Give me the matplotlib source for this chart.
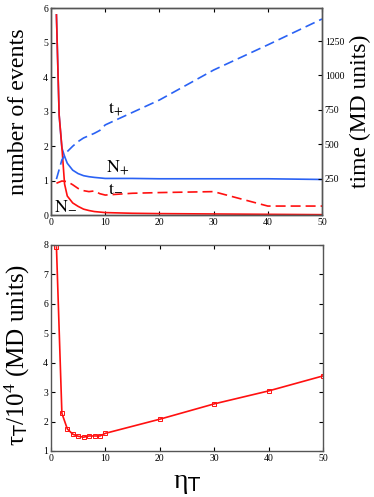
import matplotlib
matplotlib.use("Agg")
import matplotlib.pyplot as plt

plt.rcParams['font.family'] = ['Liberation Serif', 'DejaVu Serif']
plt.rcParams['mathtext.fontset'] = 'custom'
plt.rcParams['mathtext.rm'] = 'Liberation Serif'
plt.rcParams['mathtext.it'] = 'Liberation Serif:italic'
plt.rcParams['mathtext.sf'] = 'DejaVu Sans'

# ---- top panel data ----
x_Nplus = [1, 1.5, 2, 2.5, 3, 4, 5, 6, 7, 8, 10, 15, 20, 30, 40, 50]
Nplus = [5.8, 2.9, 1.95, 1.7, 1.5, 1.3, 1.2, 1.14, 1.11, 1.09, 1.06, 1.06, 1.05, 1.05, 1.05, 1.03]
x_Nminus = [1, 1.5, 2, 2.5, 3, 4, 5, 6, 7, 8, 10, 15, 20, 30, 40, 50]
Nminus = [5.8, 2.9, 1.98, 0.9, 0.55, 0.35, 0.25, 0.17, 0.13, 0.1, 0.07, 0.05, 0.04, 0.03, 0.02, 0.01]
x_tplus = [1, 2, 3, 4, 5, 6, 7, 8, 9, 10, 20, 30, 40, 50]
tplus = [246, 385, 446, 485, 519, 545, 562, 579, 600, 640, 821, 1039, 1222, 1410]
x_tminus = [1, 2, 3, 4, 5, 6, 7, 8, 9, 10, 15, 20, 30, 40, 50]
tminus = [216, 232, 228, 205, 178, 162, 155, 160, 140, 130, 143, 148, 155, 50, 50]

# ---- bottom panel data ----
eta = [1, 2, 3, 4, 5, 6, 7, 8, 9, 10, 20, 30, 40, 50]
tau = [7.93, 2.28, 1.75, 1.57, 1.5, 1.47, 1.51, 1.51, 1.51, 1.6, 2.08, 2.6, 3.04, 3.55]

blue = '#2a62f4'
red = '#ff1010'
spine_c = '#555555'

fig = plt.figure(figsize=(3.74, 4.97), dpi=100)

ax1 = fig.add_axes([0.1364, 0.5674, 0.7246, 0.4165])
ax2 = ax1.twinx()

ax1.plot(x_Nplus, Nplus, color=blue, lw=1.2)
ax1.plot(x_Nminus, Nminus, color=red, lw=1.2)
ax2.plot(x_tplus, tplus, color=blue, lw=1.2, dashes=(6, 3))
ax2.plot(x_tminus, tminus, color=red, lw=1.2, dashes=(6, 3))

ax1.set_xlim(0, 50)
ax1.set_ylim(0, 6)
ax2.set_ylim(-15, 1490)
ax1.set_xticks([0, 10, 20, 30, 40, 50])
ax1.set_yticks([0, 1, 2, 3, 4, 5, 6])
ax2.set_yticks([250, 500, 750, 1000, 1250])
ax1.tick_params(direction='in', labelsize=7, top=True, length=3, width=0.8, pad=2)
ax2.tick_params(direction='in', labelsize=7, length=3, width=0.8, pad=2)
ax1.set_ylabel('number of events', fontsize=17.3)
ax1.yaxis.set_label_coords(-0.082, 0.5)
ax2.set_ylabel('time (MD units)', fontsize=17, rotation=90)
ax2.yaxis.set_label_coords(1.103, 0.5)

lab_kw = dict(fontsize=13, math_fontfamily='stix')
ax1.text(10.5, 2.95, r'$\mathrm{t}_{+}$', **lab_kw)
ax1.text(10.2, 1.25, r'$\mathrm{N}_{+}$', **lab_kw)
ax1.text(10.6, 0.68, r'$\mathrm{t}_{-}$', **lab_kw)
ax1.text(0.6, 0.15, r'$\mathrm{N}_{-}$', **lab_kw)

for ax in (ax1, ax2):
    for s in ax.spines.values():
        s.set_color(spine_c)
        s.set_linewidth(1.0)

ax3 = fig.add_axes([0.1364, 0.0926, 0.727, 0.4145])
ax3.plot(eta, tau, color=red, lw=1.2, marker='s', markersize=3.5,
         markerfacecolor='none', markeredgecolor=red, markeredgewidth=0.7)
ax3.set_xlim(0, 50)
ax3.set_ylim(1, 8)
ax3.set_xticks([0, 10, 20, 30, 40, 50])
ax3.set_yticks([1, 2, 3, 4, 5, 6, 7, 8])
ax3.tick_params(direction='in', labelsize=7, top=True, right=True, length=3, width=0.8, pad=2)
ax3.set_xlabel(r'$\mathrm{\eta}_{\mathsf{T}}$', fontsize=20)
ax3.xaxis.set_label_coords(0.5, -0.095)
ax3.set_ylabel(r'$\mathrm{\tau}_{\mathsf{T}}/10^{4}$ (MD units)', fontsize=18)
ax3.yaxis.set_label_coords(-0.07, 0.468)
for s in ax3.spines.values():
    s.set_color(spine_c)
    s.set_linewidth(1.0)

fig.savefig('out.png', dpi=100)
